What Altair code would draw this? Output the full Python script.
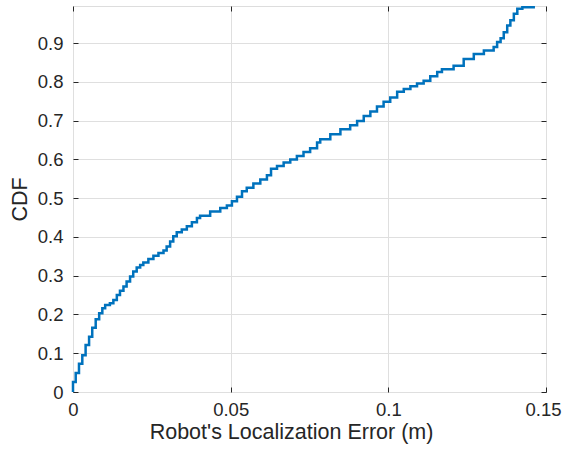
import altair as alt
import pandas as pd

err = [0.0, 0.0, 0.00086, 0.0019, 0.00295, 0.0040, 0.0051, 0.0061, 0.0072, 0.0083,
       0.0093, 0.0102, 0.0117, 0.0128, 0.0139, 0.0149, 0.0160, 0.0170, 0.0181, 0.0191,
       0.0202, 0.0213, 0.0223, 0.0239, 0.0255, 0.0271, 0.0287, 0.0297, 0.0308, 0.0318,
       0.0329, 0.0345, 0.0361, 0.0377, 0.0393, 0.0403, 0.0435, 0.0467, 0.0488, 0.0504,
       0.0520, 0.0536, 0.0551, 0.0572, 0.0594, 0.0615, 0.0628, 0.0647, 0.0668, 0.0689,
       0.0710, 0.0731, 0.0752, 0.0774, 0.0784, 0.0816, 0.0848, 0.0879, 0.0901, 0.0922,
       0.0943, 0.0964, 0.0985, 0.1006, 0.1028, 0.1049, 0.1070, 0.1091, 0.1112, 0.1133,
       0.1155, 0.1170, 0.1207, 0.1239, 0.1271, 0.1303, 0.1334, 0.1345, 0.1356, 0.1366,
       0.1377, 0.1387, 0.1398, 0.1409, 0.1425, 0.1461]
cdf = [0.0, 0.026, 0.049, 0.073, 0.095, 0.121, 0.1425, 0.166, 0.1875, 0.203,
       0.216, 0.2246, 0.229, 0.2375, 0.25, 0.261, 0.272, 0.285, 0.298, 0.311,
       0.321, 0.328, 0.334, 0.343, 0.3515, 0.3585, 0.365, 0.3756, 0.3886, 0.4016,
       0.412, 0.419, 0.4275, 0.438, 0.449, 0.455, 0.466, 0.475, 0.481, 0.492,
       0.5036, 0.518, 0.527, 0.538, 0.548, 0.559, 0.576, 0.583, 0.592, 0.600,
       0.609, 0.619, 0.629, 0.6435, 0.652, 0.665, 0.678, 0.688, 0.6995, 0.712,
       0.724, 0.737, 0.749, 0.760, 0.775, 0.782, 0.789, 0.796, 0.803, 0.8145,
       0.826, 0.833, 0.842, 0.859, 0.872, 0.881, 0.890, 0.903, 0.913, 0.928,
       0.946, 0.959, 0.976, 0.989, 0.993, 0.996]

x_ticks = [0, 0.05, 0.1, 0.15]
y_ticks = [0, 0.1, 0.2, 0.3, 0.4, 0.5, 0.6, 0.7, 0.8, 0.9]

df = pd.DataFrame({"i": list(range(len(err))), "err": err, "cdf": cdf})

FONT = "Liberation Sans"
TXT = "#262626"
GRID = "#dfdfdf"

xs = alt.Scale(domain=[0, 0.15], nice=False, zero=False)
ys = alt.Scale(domain=[0, 0.996], nice=False, zero=False)

base = alt.Chart(df)

main = base.mark_line(interpolate="step-after", color="#0072BD", strokeWidth=2.5).encode(
    x=alt.X("err:Q", scale=xs, title="Robot's Localization Error (m)",
            axis=alt.Axis(orient="bottom", values=x_ticks, format=".2~f", grid=True,
                          gridColor=GRID, gridOpacity=1, ticks=False, tickSize=0,
                          domain=False, labelFont=FONT, labelFontSize=18.5,
                          labelColor=TXT, labelPadding=8, labelOverlap=False,
                          labelFlush=False,
                          labelOffset=alt.ExprRef("datum.value > 0.149 ? -3 : 0"),
                          titleFont=FONT, titleFontSize=21.5,
                          titleFontWeight="normal", titleColor=TXT, titlePadding=3,
                          titleX=218)),
    y=alt.Y("cdf:Q", scale=ys, title="CDF",
            axis=alt.Axis(orient="left", values=y_ticks, format=".1~f", grid=True,
                          gridColor=GRID, gridOpacity=1, ticks=False, tickSize=0,
                          domain=False, labelFont=FONT, labelFontSize=18.5,
                          labelColor=TXT, labelPadding=10, labelOverlap=False,
                          labelFlush=False, titleFont=FONT, titleFontSize=21.5,
                          titleFontWeight="normal", titleColor=TXT, titlePadding=6)),
    order="i:Q",
)

def tick_layer(xo, yo):
    return base.mark_line(strokeOpacity=0).encode(
        x=alt.X("err:Q", scale=xs, title=None,
                axis=alt.Axis(orient=xo, values=x_ticks, labels=False, grid=False,
                              domain=False, ticks=True, tickSize=5, tickColor=TXT,
                              tickWidth=1, offset=-5)),
        y=alt.Y("cdf:Q", scale=ys, title=None,
                axis=alt.Axis(orient=yo, values=y_ticks, labels=False, grid=False,
                              domain=False, ticks=True, tickSize=5, tickColor=TXT,
                              tickWidth=1, offset=-5)),
        order="i:Q",
    )

chart = alt.layer(main, tick_layer("top", "right"), tick_layer("bottom", "left")).resolve_axis(
    x="independent", y="independent"
).properties(
    width=473, height=386,
    padding={"left": 73, "top": 6, "right": 17, "bottom": 57},
    autosize="none",
).configure_view(stroke=TXT, strokeWidth=1).configure(background="white")

chart.save("out.html", embed_options={"renderer": "svg", "actions": False})
